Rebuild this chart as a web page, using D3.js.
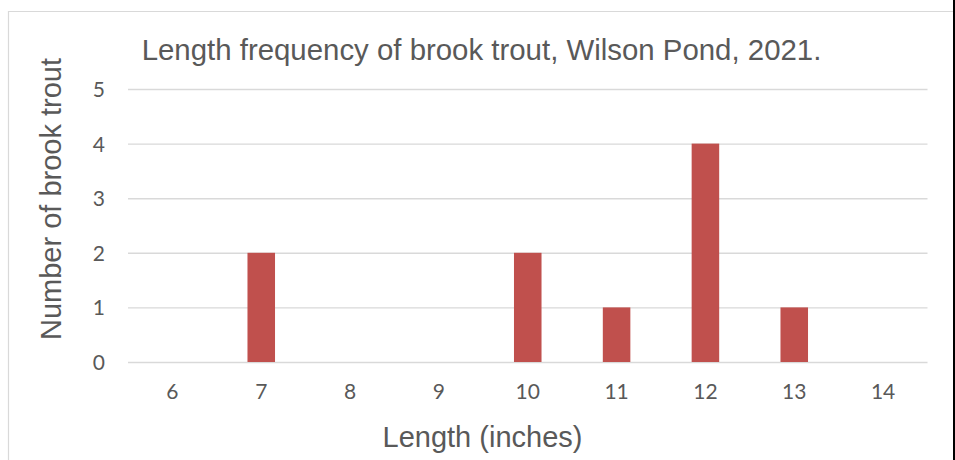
<!DOCTYPE html>
<html>
<head>
<meta charset="utf-8">
<script src="https://cdn.jsdelivr.net/npm/d3@7"></script>
<style>
  html, body { margin: 0; padding: 0; background: #fff; }
  svg { display: block; }
</style>
</head>
<body>
<svg id="chart" width="955" height="460"></svg>
<script>
const categories = ["6", "7", "8", "9", "10", "11", "12", "13", "14"];
const counts = [0, 2, 0, 0, 2, 1, 4, 1, 0];
const yTicks = [0, 1, 2, 3, 4, 5];
const titleText = "Length frequency of brook trout, Wilson Pond, 2021.";
const xTitle = "Length (inches)";
const yTitle = "Number of brook trout";

const svg = d3.select("#chart");
const W = 955, H = 460;
const plot = { left: 128, right: 927.5, top: 89, bottom: 362 };

// chart border
svg.append("path")
  .attr("d", `M8.5,${H} V11.5 H953`)
  .attr("fill", "none").attr("stroke", "#d9d9d9").attr("stroke-width", 1.2);
svg.append("rect").attr("x", 953).attr("y", 0).attr("width", 2).attr("height", H).attr("fill", "#000");

const x = d3.scaleBand().domain(categories).range([plot.left, plot.right]).paddingInner(0.69).paddingOuter(0.345);
const y = d3.scaleLinear().domain([0, 5]).range([plot.bottom, plot.top]);

// gridlines
const yAxis = d3.axisLeft(y).tickValues(yTicks).tickSize(-(plot.right - plot.left)).tickPadding(23).tickFormat(d3.format("d"));
const gy = svg.append("g").attr("transform", `translate(${plot.left},0)`).call(yAxis);
gy.select(".domain").remove();
gy.selectAll(".tick line").attr("stroke", "#d9d9d9").attr("stroke-width", 1.4);
gy.selectAll(".tick text")
  .attr("fill", "#595959").attr("font-family", "Lato, 'Open Sans', sans-serif").attr("font-size", 21)
  .attr("dy", "0.36em");

// bars
svg.append("g").selectAll("rect").data(categories.map((c, i) => ({ c, v: counts[i] })).filter(d => d.v > 0))
  .join("rect")
  .attr("x", d => x(d.c))
  .attr("width", x.bandwidth())
  .attr("y", d => y(d.v))
  .attr("height", d => y(0) - y(d.v))
  .attr("fill", "#c0504d");

// x axis labels
const xAxis = d3.axisBottom(x).tickSize(0).tickPadding(22);
const gx = svg.append("g").attr("transform", `translate(0,${plot.bottom})`).call(xAxis);
gx.select(".domain").remove();
gx.selectAll(".tick text")
  .attr("fill", "#595959").attr("font-family", "Lato, 'Open Sans', sans-serif").attr("font-size", 21);

// titles
svg.append("text").attr("x", 481.5).attr("y", 60).attr("text-anchor", "middle")
  .attr("fill", "#595959").attr("font-family", "'Liberation Sans', Arial, sans-serif").attr("font-size", 29.4)
  .text(titleText);
svg.append("text").attr("x", 482.5).attr("y", 447).attr("text-anchor", "middle")
  .attr("fill", "#595959").attr("font-family", "'Liberation Sans', Arial, sans-serif").attr("font-size", 29)
  .text(xTitle);
svg.append("text").attr("transform", "translate(61,199) rotate(-90)").attr("text-anchor", "middle")
  .attr("fill", "#595959").attr("font-family", "'Liberation Sans', Arial, sans-serif").attr("font-size", 29)
  .text(yTitle);
</script>
</body>
</html>
